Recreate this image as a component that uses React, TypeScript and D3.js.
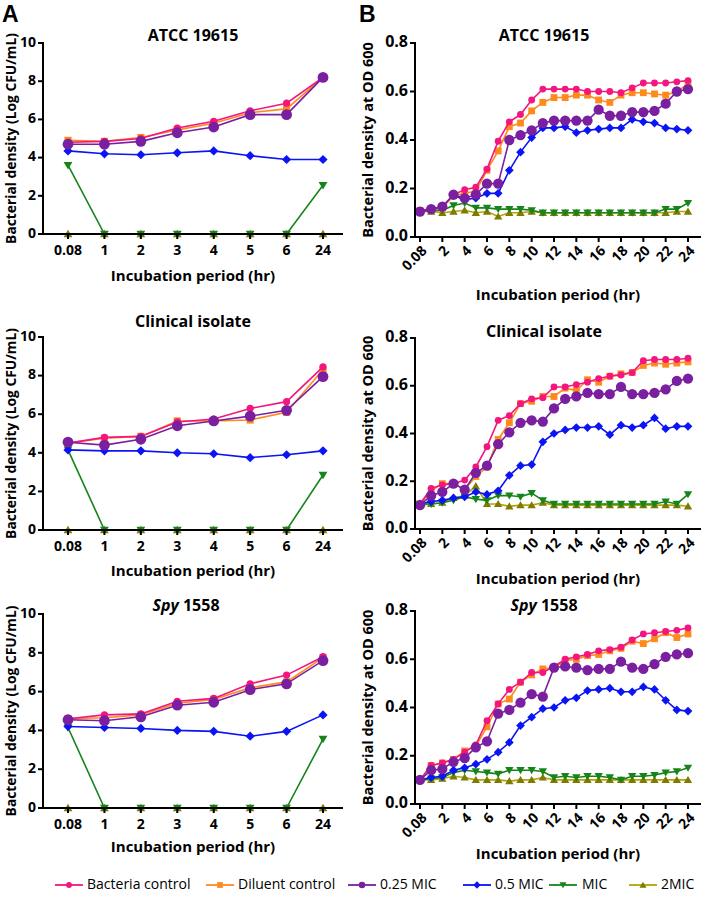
import React from 'react';
import * as d3 from 'd3';

// x categories
const A_HOURS = ['0.08', '1', '2', '3', '4', '5', '6', '24'];
const B_HOURS = ['0.08', ...d3.range(1, 25).map(String)];
const B_TICKS = B_HOURS.filter((_, i) => i % 2 === 0);

const A_Y_TICKS = [0, 2, 4, 6, 8, 10];
const B_Y_TICKS = [0, 0.2, 0.4, 0.6, 0.8];

// series order: bacteria, diluent, mic025, mic05, mic, mic2
const A_ATCC = {
  bacteria: [4.8, 4.85, 5.0, 5.55, 5.9, 6.45, 6.85, 8.2],
  diluent: [4.9, 4.85, 5.05, 5.45, 5.8, 6.35, 6.55, 8.2],
  mic025: [4.7, 4.7, 4.85, 5.3, 5.6, 6.25, 6.25, 8.2],
  mic05: [4.35, 4.2, 4.15, 4.25, 4.35, 4.1, 3.9, 3.9],
  mic: [3.6, 0, 0, 0, 0, 0, 0, 2.55],
  mic2: [0, 0, 0, 0, 0, 0, 0, 0],
};

const A_CLIN = {
  bacteria: [4.5, 4.8, 4.85, 5.6, 5.75, 6.3, 6.65, 8.45],
  diluent: [4.5, 4.75, 4.85, 5.65, 5.65, 5.7, 6.1, 8.3],
  mic025: [4.55, 4.4, 4.7, 5.4, 5.65, 5.9, 6.2, 7.95],
  mic05: [4.15, 4.1, 4.1, 4.0, 3.95, 3.75, 3.9, 4.1],
  mic: [4.15, 0, 0, 0, 0, 0, 0, 2.85],
  mic2: [0, 0, 0, 0, 0, 0, 0, 0],
};

const A_SPY = {
  bacteria: [4.6, 4.8, 4.85, 5.5, 5.65, 6.4, 6.85, 7.8],
  diluent: [4.6, 4.65, 4.8, 5.4, 5.6, 6.2, 6.5, 7.75],
  mic025: [4.55, 4.5, 4.7, 5.3, 5.45, 6.1, 6.4, 7.6],
  mic05: [4.2, 4.15, 4.1, 4.0, 3.95, 3.7, 3.95, 4.8],
  mic: [4.15, 0, 0, 0, 0, 0, 0, 3.55],
  mic2: [0, 0, 0, 0, 0, 0, 0, 0],
};

const B_ATCC = {
  bacteria: [0.11, 0.115, 0.125, 0.175, 0.195, 0.205, 0.28, 0.395, 0.475, 0.505, 0.565, 0.61, 0.61, 0.61, 0.61, 0.6, 0.6, 0.6, 0.595, 0.615, 0.635, 0.635, 0.635, 0.64, 0.645],
  diluent: [0.11, 0.115, 0.12, 0.17, 0.18, 0.19, 0.275, 0.355, 0.455, 0.47, 0.52, 0.555, 0.575, 0.575, 0.585, 0.585, 0.565, 0.555, 0.585, 0.595, 0.595, 0.59, 0.585, 0.6, 0.63],
  mic025: [0.105, 0.115, 0.125, 0.175, 0.16, 0.175, 0.22, 0.22, 0.4, 0.42, 0.44, 0.47, 0.48, 0.48, 0.48, 0.48, 0.525, 0.5, 0.5, 0.515, 0.515, 0.52, 0.55, 0.6, 0.61],
  mic05: [0.105, 0.115, 0.125, 0.17, 0.155, 0.16, 0.18, 0.18, 0.275, 0.35, 0.41, 0.45, 0.45, 0.455, 0.43, 0.44, 0.445, 0.45, 0.45, 0.485, 0.475, 0.47, 0.45, 0.445, 0.44],
  mic: [0.105, 0.11, 0.11, 0.13, 0.14, 0.12, 0.12, 0.115, 0.115, 0.115, 0.11, 0.1, 0.1, 0.1, 0.1, 0.1, 0.1, 0.1, 0.1, 0.1, 0.1, 0.1, 0.115, 0.115, 0.14],
  mic2: [0.105, 0.105, 0.1, 0.105, 0.11, 0.1, 0.105, 0.085, 0.1, 0.1, 0.105, 0.1, 0.1, 0.1, 0.1, 0.1, 0.1, 0.1, 0.1, 0.1, 0.1, 0.1, 0.1, 0.105, 0.105],
};

const B_CLIN = {
  bacteria: [0.105, 0.17, 0.185, 0.19, 0.205, 0.26, 0.345, 0.455, 0.475, 0.525, 0.545, 0.55, 0.595, 0.595, 0.605, 0.615, 0.63, 0.64, 0.645, 0.655, 0.705, 0.71, 0.71, 0.71, 0.715],
  diluent: [0.105, 0.16, 0.19, 0.19, 0.165, 0.22, 0.26, 0.375, 0.445, 0.525, 0.535, 0.555, 0.555, 0.59, 0.58, 0.625, 0.615, 0.64, 0.65, 0.655, 0.685, 0.695, 0.69, 0.695, 0.7],
  mic025: [0.1, 0.14, 0.155, 0.19, 0.165, 0.235, 0.265, 0.355, 0.405, 0.445, 0.455, 0.45, 0.505, 0.545, 0.555, 0.57, 0.565, 0.565, 0.595, 0.565, 0.565, 0.57, 0.585, 0.62, 0.63],
  mic05: [0.105, 0.115, 0.12, 0.13, 0.135, 0.155, 0.145, 0.16, 0.225, 0.265, 0.27, 0.365, 0.4, 0.415, 0.425, 0.425, 0.43, 0.395, 0.435, 0.425, 0.435, 0.465, 0.42, 0.43, 0.43],
  mic: [0.105, 0.105, 0.11, 0.12, 0.135, 0.125, 0.12, 0.14, 0.14, 0.135, 0.15, 0.12, 0.105, 0.105, 0.105, 0.105, 0.105, 0.105, 0.105, 0.105, 0.105, 0.105, 0.115, 0.105, 0.145],
  mic2: [0.1, 0.105, 0.11, 0.13, 0.14, 0.18, 0.105, 0.105, 0.095, 0.1, 0.1, 0.11, 0.1, 0.1, 0.1, 0.1, 0.1, 0.1, 0.1, 0.1, 0.1, 0.1, 0.1, 0.1, 0.095],
};

const B_SPY = {
  bacteria: [0.1, 0.16, 0.17, 0.185, 0.215, 0.245, 0.345, 0.415, 0.475, 0.505, 0.545, 0.545, 0.57, 0.6, 0.61, 0.62, 0.635, 0.64, 0.65, 0.68, 0.705, 0.71, 0.715, 0.72, 0.73],
  diluent: [0.1, 0.16, 0.17, 0.185, 0.22, 0.24, 0.32, 0.415, 0.435, 0.505, 0.535, 0.56, 0.565, 0.595, 0.6, 0.615, 0.62, 0.635, 0.645, 0.675, 0.665, 0.685, 0.71, 0.69, 0.705],
  mic025: [0.1, 0.14, 0.145, 0.175, 0.19, 0.235, 0.26, 0.375, 0.39, 0.42, 0.455, 0.445, 0.565, 0.57, 0.565, 0.555, 0.56, 0.56, 0.59, 0.565, 0.56, 0.58, 0.61, 0.62, 0.625],
  mic05: [0.1, 0.11, 0.115, 0.14, 0.15, 0.165, 0.185, 0.215, 0.255, 0.325, 0.36, 0.395, 0.4, 0.43, 0.44, 0.47, 0.475, 0.48, 0.465, 0.465, 0.485, 0.475, 0.43, 0.39, 0.385],
  mic: [0.1, 0.105, 0.11, 0.13, 0.14, 0.135, 0.13, 0.125, 0.14, 0.14, 0.14, 0.135, 0.11, 0.115, 0.11, 0.115, 0.115, 0.11, 0.1, 0.115, 0.115, 0.12, 0.13, 0.135, 0.15],
  mic2: [0.1, 0.1, 0.105, 0.115, 0.11, 0.1, 0.1, 0.1, 0.095, 0.1, 0.1, 0.11, 0.1, 0.1, 0.1, 0.1, 0.1, 0.1, 0.1, 0.1, 0.1, 0.1, 0.1, 0.1, 0.1],
};

type Key = 'bacteria' | 'diluent' | 'mic025' | 'mic05' | 'mic' | 'mic2';
type Shape = 'dot' | 'square' | 'bigdot' | 'diamond' | 'tridown' | 'triup';

const SERIES: { key: Key; label: string; color: string; line: string; shape: Shape }[] = [
  { key: 'bacteria', label: 'Bacteria control', color: '#f4167f', line: '#f4167f', shape: 'dot' },
  { key: 'diluent', label: 'Diluent control', color: '#ff8a1c', line: '#ff8a1c', shape: 'square' },
  { key: 'mic025', label: '0.25 MIC', color: '#7a1fa0', line: '#7a1fa0', shape: 'bigdot' },
  { key: 'mic05', label: '0.5 MIC', color: '#0a14f5', line: '#0a14f5', shape: 'diamond' },
  { key: 'mic', label: 'MIC', color: '#16841a', line: '#16841a', shape: 'tridown' },
  { key: 'mic2', label: '2MIC', color: '#7f7a00', line: '#b3a40a', shape: 'triup' },
];

// drawing order (last on top)
const DRAW_ORDER: Key[] = ['mic2', 'mic', 'mic05', 'diluent', 'bacteria', 'mic025'];

const FONT = '"Open Sans", "DejaVu Sans", sans-serif';

function Marker({ shape, color, x, y, k = 1 }: { shape: Shape; color: string; x: number; y: number; k?: number }) {
  switch (shape) {
    case 'dot':
      return <circle cx={x} cy={y} r={3.6 * k} fill={color} />;
    case 'bigdot':
      return <circle cx={x} cy={y} r={5.4 * k} fill={color} />;
    case 'square': {
      const h = 3.6 * k;
      return <rect x={x - h} y={y - h} width={2 * h} height={2 * h} fill={color} />;
    }
    case 'diamond': {
      const h = 4.6 * k;
      return <path d={`M${x},${y - h}L${x + h},${y}L${x},${y + h}L${x - h},${y}Z`} fill={color} />;
    }
    case 'tridown': {
      const h = 4.4 * k;
      return <path d={`M${x - h},${y - h * 0.75}L${x + h},${y - h * 0.75}L${x},${y + h * 0.95}Z`} fill={color} />;
    }
    case 'triup': {
      const h = 4.4 * k;
      return <path d={`M${x - h},${y + h * 0.75}L${x + h},${y + h * 0.75}L${x},${y - h * 0.95}Z`} fill={color} />;
    }
  }
}

interface PanelProps {
  cats: string[];
  tickCats: string[];
  rotated: boolean;
  axisX0: number;
  axisX1: number;
  first: number;
  last: number;
  yTop: number;
  yBot: number;
  yMax: number;
  yTicks: number[];
  fmt: (v: number) => string;
  title: React.ReactNode;
  titleX: number;
  titleY: number;
  yLabel: string;
  yLabelX: number;
  xTitleY: number;
  data: Record<Key, number[]>;
  markScale: number;
}

function Panel(p: PanelProps) {
  const x = d3.scalePoint<string>().domain(p.cats).range([p.first, p.last]);
  const y = d3.scaleLinear().domain([0, p.yMax]).range([p.yBot, p.yTop]);
  const line = d3
    .line<number>()
    .x((_, i) => x(p.cats[i]) as number)
    .y((d) => y(d));
  const midX = (p.axisX0 + p.axisX1) / 2;
  const midY = (p.yTop + p.yBot) / 2;

  return (
    <g fontFamily={FONT}>
      <text x={p.titleX} y={p.titleY} textAnchor="middle" dominantBaseline="middle" fontSize={16} fontWeight="bold">
        {p.title}
      </text>

      {DRAW_ORDER.map((k) => {
        const s = SERIES.find((d) => d.key === k)!;
        const vals = p.data[k];
        return (
          <g key={k}>
            <path d={line(vals) || ''} fill="none" stroke={s.line} strokeWidth={1.6} />
            {vals.map((v, i) => (
              <Marker key={i} shape={s.shape} color={s.color} x={x(p.cats[i]) as number} y={y(v)} k={p.markScale} />
            ))}
          </g>
        );
      })}

      {/* axes */}
      <line x1={p.axisX0} x2={p.axisX0} y1={p.yTop - 1} y2={p.yBot + 1} stroke="#000" strokeWidth={2} />
      <line x1={p.axisX0 - 1} x2={p.axisX1} y1={p.yBot} y2={p.yBot} stroke="#000" strokeWidth={2} />

      {p.yTicks.map((t) => (
        <g key={t}>
          <line x1={p.axisX0 - 5} x2={p.axisX0} y1={y(t)} y2={y(t)} stroke="#000" strokeWidth={2} />
          <text
            x={p.axisX0 - 7}
            y={y(t)}
            textAnchor="end"
            dominantBaseline="middle"
            fontSize={p.rotated ? 16 : 14}
            fontWeight="bold"
          >
            {p.fmt(t)}
          </text>
        </g>
      ))}

      {p.tickCats.map((c) => {
        const cx = x(c) as number;
        return (
          <g key={c}>
            <line x1={cx} x2={cx} y1={p.yBot} y2={p.yBot + 5} stroke="#000" strokeWidth={2} />
            {p.rotated ? (
              <text
                transform={`translate(${cx + 5},${p.yBot + 12}) rotate(-45)`}
                textAnchor="end"
                dominantBaseline="middle"
                fontSize={14}
                fontWeight="bold"
              >
                {c}
              </text>
            ) : (
              <text x={cx} y={p.yBot + 17} textAnchor="middle" dominantBaseline="middle" fontSize={14} fontWeight="bold">
                {c}
              </text>
            )}
          </g>
        );
      })}

      <text x={midX} y={p.xTitleY} textAnchor="middle" dominantBaseline="middle" fontSize={15} fontWeight="bold">
        Incubation period (hr)
      </text>
      <text
        transform={`translate(${p.yLabelX},${midY}) rotate(-90)`}
        textAnchor="middle"
        dominantBaseline="middle"
        fontSize={p.rotated ? 14.5 : 13.8}
        fontWeight="bold"
      >
        {p.yLabel}
      </text>
    </g>
  );
}

const ROWS_A = [
  { top: 43, bot: 234, xt: 277, ty: 37 },
  { top: 337, bot: 530, xt: 572, ty: 323 },
  { top: 614, bot: 808, xt: 848, ty: 607 },
];
const ROWS_B = [
  { top: 43, bot: 237, xt: 296, ty: 37 },
  { top: 338, bot: 529, xt: 580, ty: 333 },
  { top: 611, bot: 804, xt: 855, ty: 607 },
];

const spyTitle = (
  <>
    <tspan fontStyle="italic">Spy</tspan> 1558
  </>
);
const TITLES: React.ReactNode[] = ['ATCC 19615', 'Clinical isolate', spyTitle];
const DATA_A = [A_ATCC, A_CLIN, A_SPY];
const DATA_B = [B_ATCC, B_CLIN, B_SPY];

const LEGEND_X = [69, 220, 362, 477, 563, 643];

export default function App() {
  return (
    <div style={{ position: 'absolute', left: 0, top: 0 }}>
      <svg width={708} height={897} style={{ display: 'block', background: '#fff' }}>
        <text x={2} y={22} fontFamily="Arial, Liberation Sans, sans-serif" fontWeight="bold" fontSize={23}>
          A
        </text>
        <text x={359} y={22} fontFamily="Arial, Liberation Sans, sans-serif" fontWeight="bold" fontSize={23}>
          B
        </text>

        {ROWS_A.map((r, i) => (
          <Panel
            key={'a' + i}
            cats={A_HOURS}
            tickCats={A_HOURS}
            rotated={false}
            axisX0={43}
            axisX1={343}
            first={68}
            last={323}
            yTop={r.top}
            yBot={r.bot}
            yMax={10}
            yTicks={A_Y_TICKS}
            fmt={(v) => String(v)}
            title={TITLES[i]}
            titleX={i === 2 ? 186 : 193}
            titleY={r.ty}
            yLabel="Bacterial density (Log CFU/mL)"
            yLabelX={12}
            xTitleY={r.xt}
            data={DATA_A[i]}
            markScale={1}
          />
        ))}

        {ROWS_B.map((r, i) => (
          <Panel
            key={'b' + i}
            cats={B_HOURS}
            tickCats={B_TICKS}
            rotated={true}
            axisX0={415}
            axisX1={701}
            first={420}
            last={688}
            yTop={r.top}
            yBot={r.bot}
            yMax={0.8}
            yTicks={B_Y_TICKS}
            fmt={d3.format('.1f')}
            title={TITLES[i]}
            titleX={544}
            titleY={r.ty}
            yLabel="Bacterial density at OD 600"
            yLabelX={369}
            xTitleY={r.xt}
            data={DATA_B[i]}
            markScale={0.95}
          />
        ))}

        <g fontFamily={FONT} fontSize={14}>
          {SERIES.map((s, i) => {
            const cx = LEGEND_X[i];
            return (
              <g key={s.key}>
                <line x1={cx - 14} x2={cx + 14} y1={885} y2={885} stroke={s.line} strokeWidth={1.8} />
                <Marker shape={s.shape} color={s.color} x={cx} y={885} k={s.shape === 'bigdot' ? 0.6 : 0.8} />
                <text x={cx + (i === 4 ? 19 : 18)} y={885} dominantBaseline="middle">
                  {s.label}
                </text>
              </g>
            );
          })}
        </g>
      </svg>
    </div>
  );
}
